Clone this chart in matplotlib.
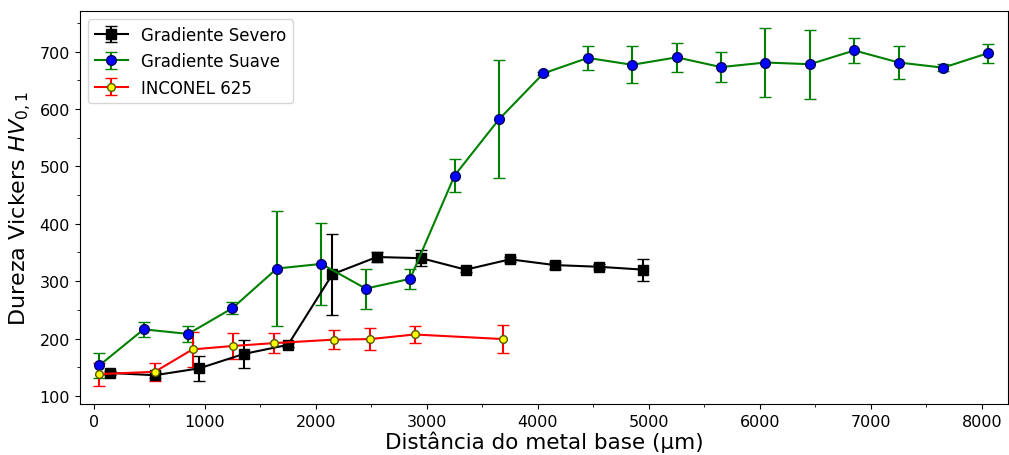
import matplotlib.pyplot as plt
from matplotlib.ticker import MultipleLocator

# Gradiente Severo
sev_x = [150, 550, 950, 1350, 1750, 2150, 2550, 2950, 3350, 3750, 4150, 4550, 4950]
sev_y = [140, 136, 148, 173, 189, 312, 342, 340, 320, 338, 328, 325, 320]
sev_err = [4, 5, 22, 25, 4, 71, 8, 14, 4, 4, 6, 4, 19]

# Gradiente Suave
sua_x = [50, 450, 850, 1250, 1650, 2050, 2450, 2850, 3250, 3650, 4050,
         4450, 4850, 5250, 5650, 6050, 6450, 6850, 7250, 7650, 8050]
sua_y = [153, 216, 208, 253, 322, 330, 287, 304, 484, 582, 662,
         689, 677, 690, 673, 681, 678, 702, 681, 672, 697]
sua_err = [22, 13, 14, 11, 100, 72, 35, 18, 28, 103, 3,
           21, 32, 25, 26, 60, 60, 22, 29, 6, 16]

# INCONEL 625
inc_x = [50, 550, 890, 1255, 1625, 2160, 2490, 2890, 3690]
inc_y = [138, 142, 181, 187, 192, 198, 199, 207, 199]
inc_err = [20, 16, 30, 22, 18, 17, 19, 14, 25]

fig = plt.figure(figsize=(10.09, 4.56), dpi=100)
ax = fig.add_axes([0.079, 0.112, 0.92, 0.862])

ax.errorbar(sev_x, sev_y, yerr=sev_err, color='black', marker='s', markersize=7,
            markeredgecolor='black', markerfacecolor='black', capsize=4, lw=1.5,
            label='Gradiente Severo')
ax.errorbar(sua_x, sua_y, yerr=sua_err, color='green', marker='o', markersize=7,
            markerfacecolor='blue', markeredgecolor='#000060', capsize=4, lw=1.5,
            ecolor='green', label='Gradiente Suave')
ax.errorbar(inc_x, inc_y, yerr=inc_err, color='red', marker='o', markersize=5.5,
            markerfacecolor='yellow', markeredgecolor='#555500', capsize=4, lw=1.5,
            ecolor='red', label='INCONEL 625')

ax.set_xlim(-126, 8234)
ax.set_ylim(86, 771)
ax.xaxis.set_major_locator(MultipleLocator(1000))
ax.xaxis.set_minor_locator(MultipleLocator(500))
ax.yaxis.set_major_locator(MultipleLocator(100))
ax.yaxis.set_minor_locator(MultipleLocator(50))
ax.tick_params(labelsize=11.5)
ax.set_xlabel('Distância do metal base (µm)', fontsize=15.5, labelpad=1)
ax.set_ylabel('Dureza Vickers $HV_{0,1}$', fontsize=16)
ax.legend(loc='upper left', fontsize=12)

fig.savefig('out.png', dpi=100)
